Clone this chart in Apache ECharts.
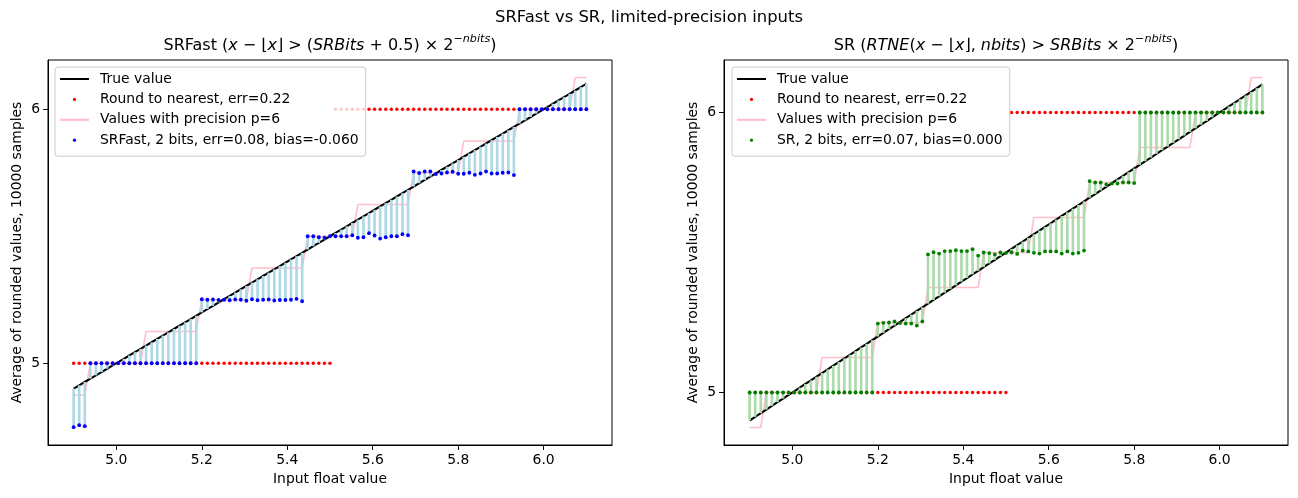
<!DOCTYPE html>
<html><head><meta charset="utf-8">
<script src="https://cdn.jsdelivr.net/npm/echarts@6/dist/echarts.min.js"></script>
<style>html,body{margin:0;padding:0;background:#fff}#c{width:1298px;height:498px}</style>
</head><body><div id="c"></div>
<script>
// ---------------- data ----------------
const xValues = [
 4.9000,4.9130,4.9261,4.9391,4.9522,4.9652,4.9783,4.9913,5.0043,5.0174,
 5.0304,5.0435,5.0565,5.0696,5.0826,5.0957,5.1087,5.1217,5.1348,5.1478,
 5.1609,5.1739,5.1870,5.2000,5.2130,5.2261,5.2391,5.2522,5.2652,5.2783,
 5.2913,5.3043,5.3174,5.3304,5.3435,5.3565,5.3696,5.3826,5.3957,5.4087,
 5.4217,5.4348,5.4478,5.4609,5.4739,5.4870,5.4999,5.5130,5.5261,5.5391,
 5.5522,5.5652,5.5783,5.5913,5.6043,5.6174,5.6304,5.6435,5.6565,5.6696,
 5.6826,5.6957,5.7087,5.7217,5.7348,5.7478,5.7609,5.7739,5.7870,5.8000,
 5.8130,5.8261,5.8391,5.8522,5.8652,5.8783,5.8913,5.9043,5.9174,5.9304,
 5.9435,5.9565,5.9696,5.9826,5.9957,6.0087,6.0217,6.0348,6.0478,6.0609,
 6.0739,6.0870,6.1000];
const roundNearest = [
 5,5,5,5,5,5,5,5,5,5, 5,5,5,5,5,5,5,5,5,5, 5,5,5,5,5,5,5,5,5,5,
 5,5,5,5,5,5,5,5,5,5, 5,5,5,5,5,5,5,
 6,6,6,6,6,6,6,6,6,6, 6,6,6,6,6,6,6,6,6,6, 6,6,6,6,6,6,6,6,6,6,
 6,6,6,6,6,6,6,6,6,6, 6,6,6,6,6,6];
const precisionP6 = [
 4.875,4.875,4.875,
 5,5,5,5,5,5,5,5,5,5,
 5.125,5.125,5.125,5.125,5.125,5.125,5.125,5.125,5.125,5.125,
 5.25,5.25,5.25,5.25,5.25,5.25,5.25,5.25,5.25,
 5.375,5.375,5.375,5.375,5.375,5.375,5.375,5.375,5.375,5.375,
 5.5,5.5,5.5,5.5,5.5,5.5,5.5,5.5,5.5,
 5.625,5.625,5.625,5.625,5.625,5.625,5.625,5.625,5.625,5.625,
 5.75,5.75,5.75,5.75,5.75,5.75,5.75,5.75,5.75,
 5.875,5.875,5.875,5.875,5.875,5.875,5.875,5.875,5.875,5.875,
 6,6,6,6,6,6,6,6,6,6,
 6.125,6.125,6.125];
const srFast2 = [
 4.748,4.756,4.752,
 5,5,5,5,5,5,5,5,5,5, 5,5,5,5,5,5,5,5,5,5,
 5.252,5.250,5.251,5.249,5.250,5.248,5.251,5.250,5.246,5.252,
 5.248,5.250,5.251,5.247,5.249,5.249,5.250,5.253,5.244,
 5.500,5.500,5.496,5.494,5.500,5.500,5.500,5.500,5.504,5.494,
 5.496,5.512,5.503,5.491,5.496,5.500,5.500,5.508,5.504,
 5.755,5.749,5.755,5.755,5.745,5.747,5.751,5.754,5.746,5.746,
 5.750,5.742,5.747,5.755,5.747,5.747,5.750,5.751,5.741,
 6,6,6,6,6,6,6,6,6,6,6,6,6];
const sr2 = [
 5,5,5,5,5,5,5,5,5,5, 5,5,5,5,5,5,5,5,5,5, 5,5,5,
 5.246,5.249,5.250,5.254,5.248,5.246,5.246,5.239,5.254,
 5.493,5.501,5.496,5.505,5.505,5.508,5.505,5.505,5.512,5.489,
 5.500,5.498,5.493,5.500,5.498,5.500,5.495,5.507,5.504,5.499,
 5.496,5.504,5.504,5.504,5.496,5.504,5.496,5.499,5.507,
 5.755,5.750,5.750,5.743,5.746,5.746,5.750,5.750,5.748,
 6,6,6,6,6,6,6,6,6,6, 6,6,6,6,6,6,6,6,6,6, 6,6,6];
const xTicks = [5.0,5.2,5.4,5.6,5.8,6.0];
const yTicks = [5,6];
const nameTrue = 'True value';
const nameRN = 'Round to nearest, err=0.22';
const nameP6 = 'Values with precision p=6';
const nameSRFast = 'SRFast, 2 bits, err=0.08, bias=-0.060';
const nameSR = 'SR, 2 bits, err=0.07, bias=0.000';
const suptitle = 'SRFast vs SR, limited-precision inputs';
const xName = 'Input float value';
const yName = 'Average of rounded values, 10000 samples';

// ---------------- helpers ----------------
const FF = 'DejaVu Sans';
const pair = ys => xValues.map((x, i) => [x, ys[i]]);
const stemData = ys => xValues.map((x, i) => [x, x, ys[i]]);
function stemSeries(idx, ys, color) {
  return {
    type: 'custom', xAxisIndex: idx, yAxisIndex: idx, z: 4, silent: true,
    data: stemData(ys), encode: {x: 0, y: [1, 2]},
    renderItem: (p, api) => {
      const a = api.coord([api.value(0), api.value(1)]);
      const b = api.coord([api.value(0), api.value(2)]);
      return {type: 'line', shape: {x1: a[0], y1: a[1], x2: b[0], y2: b[1]},
              style: {stroke: color, lineWidth: 2.6}};
    }
  };
}
function lineIcon(h) {
  const a = 7 - h / 2, b = 7 + h / 2;
  return 'path://M0,0 M35,14 M0,' + a + ' L29,' + a + ' L29,' + b + ' L0,' + b + ' Z';
}
const dotIcon = 'path://M0,0 M35,14 M12.9,7 A1.6,1.6 0 1,0 16.1,7 A1.6,1.6 0 1,0 12.9,7 Z';
function legend(left, lastName, lastColor) {
  return {
    orient: 'vertical', left: left, top: 67, z: 10, selectedMode: false,
    itemWidth: 35, itemHeight: 14, itemGap: 6.4,
    padding: [5, 7, 9, 5],
    backgroundColor: 'rgba(255,255,255,0.8)', borderColor: '#cccccc', borderWidth: 1, borderRadius: 3,
    textStyle: {fontFamily: FF, fontSize: 13.9, color: '#000', padding: [0, 0, 0, 0]},
    itemStyle: {borderWidth: 0},
    data: [
      {name: nameTrue, icon: lineIcon(2), itemStyle: {color: '#000', borderWidth: 0}},
      {name: nameRN, icon: dotIcon, itemStyle: {color: '#ff0000', borderWidth: 0}},
      {name: nameP6, icon: lineIcon(2.2), itemStyle: {color: '#ffc0cb', borderWidth: 0}},
      {name: lastName, icon: dotIcon, itemStyle: {color: lastColor, borderWidth: 0}}
    ]
  };
}
function xAxis(idx) {
  return {
    type: 'value', gridIndex: idx, min: 4.84, max: 6.16,
    axisLine: {show: true, onZero: false, lineStyle: {color: '#000', width: 1}},
    axisTick: {show: true, length: 4.9, lineStyle: {color: '#000', width: 1}, customValues: xTicks},
    axisLabel: {customValues: xTicks, formatter: v => Number(v).toFixed(1), color: '#000',
                fontFamily: FF, fontSize: 13.9, margin: 8},
    splitLine: {show: false},
    name: xName, nameLocation: 'middle', nameGap: 27,
    nameTextStyle: {fontFamily: FF, fontSize: 13.9, color: '#000'}
  };
}
function yAxis(idx, mn, mx) {
  return {
    type: 'value', gridIndex: idx, min: mn, max: mx,
    axisLine: {show: true, onZero: false, lineStyle: {color: '#000', width: 1}},
    axisTick: {show: true, length: 4.9, lineStyle: {color: '#000', width: 1}, customValues: yTicks},
    axisLabel: {customValues: yTicks, formatter: v => String(Math.round(v)), color: '#000',
                fontFamily: FF, fontSize: 13.9, margin: 8},
    splitLine: {show: false},
    name: yName, nameLocation: 'middle', nameGap: 24, nameRotate: 90,
    nameTextStyle: {fontFamily: FF, fontSize: 13.9, color: '#000'}
  };
}
function panelSeries(idx, ys, dotColor, stemColor, lastName) {
  return [
    {type: 'line', name: nameP6, xAxisIndex: idx, yAxisIndex: idx, z: 2, data: pair(precisionP6),
     showSymbol: false, symbol: 'none', lineStyle: {color: '#ffc0cb', width: 1.6}, itemStyle: {color: '#ffc0cb'}, silent: true},
    {type: 'line', name: nameTrue, xAxisIndex: idx, yAxisIndex: idx, z: 3, data: pair(xValues),
     showSymbol: false, symbol: 'none', lineStyle: {color: '#000', width: 2.1}, itemStyle: {color: '#000'}, silent: true},
    stemSeries(idx, ys, stemColor),
    {type: 'scatter', name: nameRN, xAxisIndex: idx, yAxisIndex: idx, z: 5, data: pair(roundNearest),
     symbolSize: 3.4, itemStyle: {color: '#ff0000', opacity: 1}, silent: true},
    {type: 'scatter', name: lastName, xAxisIndex: idx, yAxisIndex: idx, z: 6, data: pair(ys),
     symbolSize: 3.8, itemStyle: {color: dotColor, opacity: 1}, silent: true}
  ];
}
const TF = 16;
const titleRich = {
  n: {fontFamily: FF, fontSize: TF, fill: '#000', lineHeight: 24},
  i: {fontFamily: FF, fontSize: TF, fontStyle: 'italic', fill: '#000', lineHeight: 24},
  s: {fontFamily: FF, fontSize: 11.2, fontStyle: 'italic', fill: '#000', lineHeight: 13, verticalAlign: 'top'}
};
const titleLeft = '{n|SRFast (}{i|x}{n| − ⌊}{i|x}{n|⌋ > (}{i|SRBits}{n| + 0.5) × 2}{s|−nbits}{n|)}';
const titleRight = '{n|SR (}{i|RTNE}{n|(}{i|x}{n| − ⌊}{i|x}{n|⌋, }{i|nbits}{n|) > }{i|SRBits}{n| × 2}{s|−nbits}{n|)}';

const chart = echarts.init(document.getElementById('c'), null, {renderer: 'canvas'});
chart.setOption({
  animation: false,
  backgroundColor: '#fff',
  graphic: [
    {type: 'text', x: 649, y: 18, z: 20, style: {text: suptitle, fontFamily: FF, fontSize: 16.4, fill: '#000', align: 'center', verticalAlign: 'middle'}},
    {type: 'text', x: 330, y: 46, z: 20, style: {text: titleLeft, rich: titleRich, fontFamily: FF, fontSize: TF, fill: '#000', align: 'center', verticalAlign: 'middle'}},
    {type: 'text', x: 1006, y: 46, z: 20, style: {text: titleRight, rich: titleRich, fontFamily: FF, fontSize: TF, fill: '#000', align: 'center', verticalAlign: 'middle'}}
  ],
  grid: [
    {left: 48, top: 60, width: 564, height: 385, show: true, borderColor: '#000', borderWidth: 1, backgroundColor: 'transparent', containLabel: false},
    {left: 724, top: 60, width: 564, height: 385, show: true, borderColor: '#000', borderWidth: 1, backgroundColor: 'transparent', containLabel: false}
  ],
  xAxis: [xAxis(0), xAxis(1)],
  yAxis: [yAxis(0, 4.678, 6.194), yAxis(1, 4.8125, 6.1875)],
  legend: [legend(55, nameSRFast, '#0000ff'), legend(732, nameSR, '#008000')],
  series: [].concat(
    panelSeries(0, srFast2, '#0000ff', '#add8e6', nameSRFast),
    panelSeries(1, sr2, '#008000', '#abdaab', nameSR)
  )
});
</script>
</body></html>
